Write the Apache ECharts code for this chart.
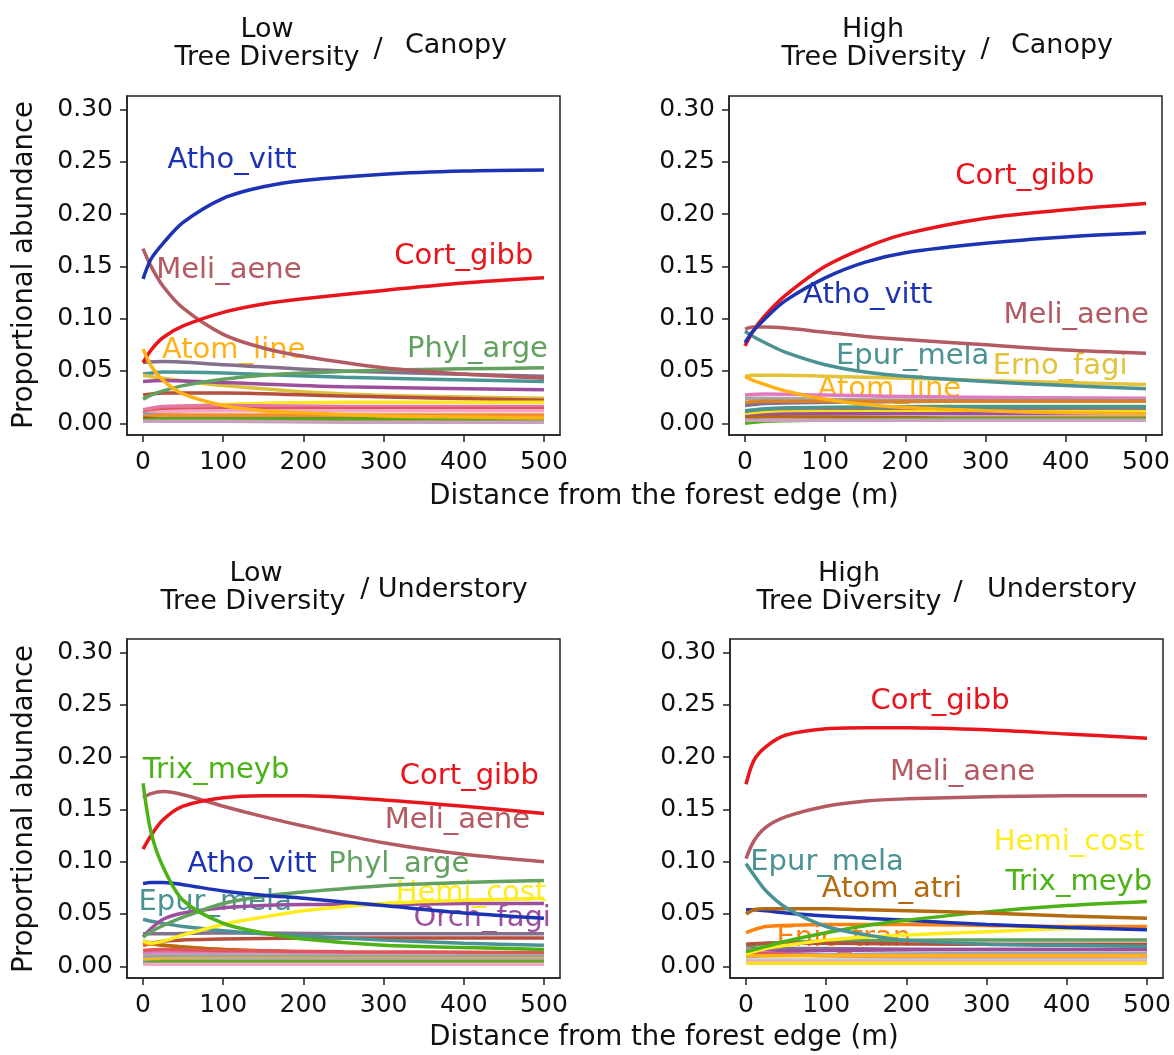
<!DOCTYPE html>
<html>
<head>
<meta charset="utf-8">
<script src="https://cdn.jsdelivr.net/npm/echarts@6/dist/echarts.min.js"></script>
<style>
  html, body { margin: 0; background: #fff; }
  #chart { width: 1174px; height: 1055px; }
</style>
</head>
<body>
<div id="chart"></div>
<script>
const dist = [0, 10, 25, 50, 100, 150, 200, 300, 400, 500];
const bgDist = [0, 25, 100, 250, 500];
const xTicks = [0, 100, 200, 300, 400, 500];
const yTicks = [0, 0.05, 0.10, 0.15, 0.20, 0.25, 0.30];

// labelled species, one array per panel
const lowCanopy = [
  ['Phyl_arge', [0.023, 0.027, 0.031, 0.036, 0.042, 0.046, 0.048, 0.051, 0.052, 0.053]],
  ['Meli_aene', [0.167, 0.150, 0.131, 0.110, 0.085, 0.072, 0.064, 0.053, 0.047, 0.043]],
  ['Cort_gibb', [0.058, 0.070, 0.082, 0.093, 0.106, 0.114, 0.119, 0.127, 0.134, 0.139]],
  ['Atom_line', [0.071, 0.055, 0.041, 0.028, 0.017, 0.012, 0.010, 0.007, 0.006, 0.005]],
  ['Atho_vitt', [0.138, 0.157, 0.172, 0.192, 0.215, 0.226, 0.232, 0.238, 0.241, 0.242]]
];
const highCanopy = [
  ['Erno_fagi', [0.045, 0.046, 0.046, 0.046, 0.045, 0.044, 0.043, 0.041, 0.039, 0.037]],
  ['Atom_line', [0.045, 0.041, 0.037, 0.031, 0.023, 0.018, 0.015, 0.012, 0.010, 0.009]],
  ['Epur_mela', [0.088, 0.083, 0.077, 0.068, 0.056, 0.049, 0.045, 0.040, 0.036, 0.033]],
  ['Meli_aene', [0.090, 0.092, 0.092, 0.091, 0.087, 0.083, 0.080, 0.075, 0.070, 0.067]],
  ['Cort_gibb', [0.074, 0.088, 0.103, 0.122, 0.150, 0.168, 0.181, 0.196, 0.204, 0.210]],
  ['Atho_vitt', [0.077, 0.088, 0.100, 0.117, 0.139, 0.154, 0.163, 0.172, 0.178, 0.182]]
];
const lowUnder = [
  ['Epur_mela', [0.045, 0.043, 0.041, 0.038, 0.034, 0.031, 0.029, 0.025, 0.022, 0.020]],
  ['Orch_fagi', [0.028, 0.036, 0.045, 0.051, 0.056, 0.058, 0.059, 0.059, 0.060, 0.060]],
  ['Phyl_arge', [0.028, 0.033, 0.039, 0.047, 0.060, 0.067, 0.071, 0.077, 0.080, 0.082]],
  ['Hemi_cost', [0.024, 0.022, 0.024, 0.030, 0.040, 0.047, 0.053, 0.060, 0.063, 0.065]],
  ['Atho_vitt', [0.079, 0.080, 0.080, 0.078, 0.072, 0.068, 0.065, 0.058, 0.051, 0.046]],
  ['Meli_aene', [0.161, 0.165, 0.167, 0.164, 0.153, 0.143, 0.134, 0.118, 0.107, 0.100]],
  ['Cort_gibb', [0.112, 0.125, 0.140, 0.153, 0.161, 0.163, 0.163, 0.159, 0.153, 0.146]],
  ['Trix_meyb', [0.175, 0.128, 0.095, 0.063, 0.041, 0.032, 0.026, 0.020, 0.018, 0.016]]
];
const highUnder = [
  ['Hemi_cost', [0.012, 0.014, 0.017, 0.020, 0.025, 0.028, 0.030, 0.033, 0.036, 0.037]],
  ['Enic_tran', [0.032, 0.035, 0.038, 0.039, 0.040, 0.040, 0.040, 0.039, 0.038, 0.038]],
  ['Atho_vitt', [0.054, 0.054, 0.053, 0.051, 0.048, 0.046, 0.044, 0.040, 0.037, 0.035]],
  ['Trix_meyb', [0.014, 0.016, 0.019, 0.024, 0.032, 0.039, 0.044, 0.052, 0.058, 0.062]],
  ['Atom_atri', [0.050, 0.054, 0.055, 0.055, 0.055, 0.054, 0.053, 0.051, 0.048, 0.046]],
  ['Epur_mela', [0.098, 0.087, 0.072, 0.056, 0.038, 0.030, 0.025, 0.021, 0.020, 0.019]],
  ['Meli_aene', [0.103, 0.120, 0.133, 0.143, 0.153, 0.158, 0.160, 0.162, 0.163, 0.163]],
  ['Cort_gibb', [0.174, 0.197, 0.210, 0.221, 0.227, 0.228, 0.228, 0.226, 0.222, 0.218]]
];

// the many rare species, sampled at bgDist
const bgLowCanopy = [
  [0.058, 0.059, 0.056, 0.050, 0.045], [0.047, 0.049, 0.048, 0.044, 0.040],
  [0.046, 0.043, 0.036, 0.028, 0.024], [0.040, 0.041, 0.039, 0.035, 0.032],
  [0.027, 0.029, 0.029, 0.026, 0.022], [0.012, 0.015, 0.018, 0.020, 0.020],
  [0.013, 0.016, 0.017, 0.016, 0.016], [0.010, 0.013, 0.014, 0.014, 0.014],
  [0.009, 0.011, 0.012, 0.012, 0.012], [0.009, 0.008, 0.007, 0.007, 0.007],
  [0.006, 0.008, 0.008, 0.008, 0.008], [0.005, 0.004, 0.004, 0.004, 0.004],
  [0.003, 0.004, 0.004, 0.004, 0.004], [0.002, 0.002, 0.002, 0.001, 0.001]
];
const bgHighCanopy = [
  [0.027, 0.028, 0.027, 0.025, 0.024], [0.024, 0.024, 0.023, 0.022, 0.022],
  [0.017, 0.019, 0.020, 0.021, 0.021], [0.020, 0.021, 0.021, 0.021, 0.021],
  [0.010, 0.013, 0.015, 0.016, 0.016], [0.008, 0.010, 0.012, 0.013, 0.013],
  [0.008, 0.010, 0.011, 0.011, 0.011], [0.006, 0.008, 0.009, 0.009, 0.009],
  [0.005, 0.006, 0.006, 0.005, 0.005], [0.000, 0.002, 0.003, 0.004, 0.004],
  [0.003, 0.003, 0.003, 0.003, 0.003], [0.012, 0.014, 0.015, 0.015, 0.015]
];
const bgLowUnder = [
  [0.031, 0.031, 0.032, 0.031, 0.031], [0.020, 0.024, 0.026, 0.027, 0.027],
  [0.022, 0.020, 0.016, 0.013, 0.012], [0.024, 0.020, 0.016, 0.013, 0.011],
  [0.012, 0.014, 0.014, 0.013, 0.012], [0.015, 0.016, 0.015, 0.014, 0.013],
  [0.010, 0.011, 0.011, 0.010, 0.010], [0.008, 0.009, 0.009, 0.009, 0.009],
  [0.006, 0.007, 0.007, 0.007, 0.007], [0.004, 0.005, 0.006, 0.006, 0.006],
  [0.003, 0.004, 0.004, 0.004, 0.004], [0.002, 0.002, 0.002, 0.002, 0.002]
];
const bgHighUnder = [
  [0.018, 0.022, 0.024, 0.025, 0.025], [0.021, 0.022, 0.022, 0.021, 0.021],
  [0.016, 0.017, 0.017, 0.016, 0.016], [0.012, 0.014, 0.015, 0.016, 0.016],
  [0.017, 0.013, 0.010, 0.008, 0.007], [0.013, 0.012, 0.011, 0.011, 0.011],
  [0.009, 0.010, 0.011, 0.012, 0.012], [0.010, 0.010, 0.010, 0.010, 0.010],
  [0.006, 0.006, 0.006, 0.006, 0.006], [0.004, 0.004, 0.004, 0.004, 0.004],
  [0.003, 0.003, 0.003, 0.003, 0.003]
];

// species name labels: [name, distance, abundance]
const notesLowCanopy = [['Atho_vitt', 111, 0.251], ['Meli_aene', 107, 0.146], ['Cort_gibb', 400, 0.159],
  ['Atom_line', 113, 0.070], ['Phyl_arge', 417, 0.071]];
const notesHighCanopy = [['Cort_gibb', 349, 0.236], ['Atho_vitt', 153, 0.122], ['Meli_aene', 413, 0.103],
  ['Epur_mela', 209, 0.064], ['Erno_fagi', 393, 0.054], ['Atom_line', 180, 0.032]];
const notesLowUnder = [['Trix_meyb', 91, 0.187], ['Cort_gibb', 407, 0.1815], ['Meli_aene', 392, 0.139],
  ['Atho_vitt', 136, 0.097], ['Phyl_arge', 319, 0.097], ['Hemi_cost', 409, 0.070],
  ['Epur_mela', 90, 0.061], ['Orch_fagi', 423, 0.046]];
const notesHighUnder = [['Cort_gibb', 242, 0.253], ['Meli_aene', 270, 0.185], ['Hemi_cost', 403, 0.118],
  ['Epur_mela', 101, 0.099], ['Trix_meyb', 415, 0.080], ['Atom_atri', 182, 0.073], ['Enic_tran', 122, 0.027]];

// styles
const speciesColor = {
  Atho_vitt: '#1c34b4', Cort_gibb: '#e8161c', Meli_aene: '#b35a63', Atom_line: '#ffb214',
  Phyl_arge: '#62a160', Epur_mela: '#4a9294', Erno_fagi: '#e2c33a', Trix_meyb: '#4cb217',
  Hemi_cost: '#fdec1e', Orch_fagi: '#9d4f9f', Atom_atri: '#b46a10', Enic_tran: '#ff800e'
};
const bgColLowCanopy = ['#84708c', '#4a9696', '#dcc23c', '#9b4f9d', '#b5503c', '#fde725', '#e377a8',
  '#e15759', '#f4a6c8', '#9a9a9a', '#f28e2b', '#9c5a1a', '#59a80f', '#c9a0c0'];
const bgColHighCanopy = ['#e377c2', '#a6a6a6', '#84708c', '#d9822b', '#5f9e5f', '#e15759', '#f5e11e',
  '#9b4f9d', '#b5690f', '#4db317', '#c9a0c0', '#4a9696'];
const bgColLowUnder = ['#84708c', '#b5503c', '#ff7f0e', '#b5690f', '#e377c2', '#e15759', '#c0a0b0',
  '#8fa8a8', '#ffb414', '#a6a6a6', '#59a80f', '#f4a6c8'];
const bgColHighUnder = ['#5f9e5f', '#b5503c', '#84708c', '#9b4f9d', '#e377c2', '#e15759', '#a6a6a6',
  '#ffb414', '#c7c7c7', '#f4a6c8', '#f5e11e'];

const FONT = 'DejaVu Sans';
const panels = [
  { main: lowCanopy, bg: bgLowCanopy, bgCol: bgColLowCanopy, notes: notesLowCanopy, left: 127, top: 96 },
  { main: highCanopy, bg: bgHighCanopy, bgCol: bgColHighCanopy, notes: notesHighCanopy, left: 729, top: 96 },
  { main: lowUnder, bg: bgLowUnder, bgCol: bgColLowUnder, notes: notesLowUnder, left: 127, top: 639 },
  { main: highUnder, bg: bgHighUnder, bgCol: bgColHighUnder, notes: notesHighUnder, left: 730, top: 639 }
];

const grid = [], xAxis = [], yAxis = [], series = [];
panels.forEach((p, i) => {
  grid.push({ left: p.left, top: p.top, width: 433, height: 339, show: true,
    borderColor: '#222', borderWidth: 1.5, backgroundColor: 'transparent' });
  xAxis.push({
    gridIndex: i, type: 'value', min: -20, max: 520,
    axisLine: { show: true, onZero: false, lineStyle: { color: '#222', width: 1.5 } },
    axisTick: { show: true, length: 7, customValues: xTicks, lineStyle: { color: '#222', width: 1.5 } },
    axisLabel: { customValues: xTicks, margin: 15, color: '#111', fontSize: 25, fontFamily: FONT },
    splitLine: { show: false }
  });
  yAxis.push({
    gridIndex: i, type: 'value', min: -0.0112, max: 0.3128,
    axisLine: { show: true, onZero: false, lineStyle: { color: '#222', width: 1.5 } },
    axisTick: { show: true, length: 7, customValues: yTicks, lineStyle: { color: '#222', width: 1.5 } },
    axisLabel: { customValues: yTicks, margin: 14, color: '#111', fontSize: 25, fontFamily: FONT,
      formatter: v => v.toFixed(2) },
    splitLine: { show: false }
  });
  series.push({
    type: 'scatter', xAxisIndex: i, yAxisIndex: i, symbolSize: 0, silent: true, z: 1,
    itemStyle: { opacity: 1 },
    data: p.notes.map(n => ({ name: n[0], value: [n[1], n[2]],
      label: { color: speciesColor[n[0]] } })),
    label: { show: true, position: 'inside', formatter: '{b}', fontSize: 29, fontFamily: FONT,
      opacity: 1, textBorderWidth: 0 }
  });
  p.bg.forEach((vals, k) => {
    series.push({
      type: 'line', xAxisIndex: i, yAxisIndex: i, showSymbol: false, smooth: 0.3,
      silent: true, z: 2,
      lineStyle: { width: 3.5, color: p.bgCol[k] },
      data: bgDist.map((d, j) => [d, vals[j]])
    });
  });
  p.main.forEach(([name, vals]) => {
    series.push({
      name: name, type: 'line', xAxisIndex: i, yAxisIndex: i, showSymbol: false, smooth: 0.3,
      silent: true, z: 3,
      lineStyle: { width: 3.5, color: speciesColor[name] },
      data: dist.map((d, j) => [d, vals[j]])
    });
  });
});

function txt (text, x, y, size, rot) {
  return { type: 'text', x: x, y: y, rotation: rot || 0, silent: true,
    style: { text: text, fill: '#111', fontSize: size, fontFamily: FONT,
      align: 'center', verticalAlign: 'middle' } };
}

const graphic = [
  txt('Low', 267, 30, 27), txt('Tree Diversity', 267, 58, 27), txt('/', 378, 50, 27), txt('Canopy', 456, 46, 27),
  txt('High', 873, 30, 27), txt('Tree Diversity', 874, 58, 27), txt('/', 985, 50, 27), txt('Canopy', 1062, 46, 27),
  txt('Low', 256, 574, 27), txt('Tree Diversity', 253, 602, 27), txt('/ Understory', 444, 590, 27),
  txt('High', 849, 574, 27), txt('Tree Diversity', 849, 602, 27), txt('/', 958, 593, 27), txt('Understory', 1062, 590, 27),
  txt('Distance from the forest edge (m)', 664, 497, 27.5),
  txt('Distance from the forest edge (m)', 664, 1038, 27.5),
  txt('Proportional abundance', 25, 265, 27.5, Math.PI / 2),
  txt('Proportional abundance', 25, 809, 27.5, Math.PI / 2)
];

const chart = echarts.init(document.getElementById('chart'));
chart.setOption({
  animation: false,
  backgroundColor: '#fff',
  grid: grid,
  xAxis: xAxis,
  yAxis: yAxis,
  series: series,
  graphic: graphic
});
</script>
</body>
</html>
